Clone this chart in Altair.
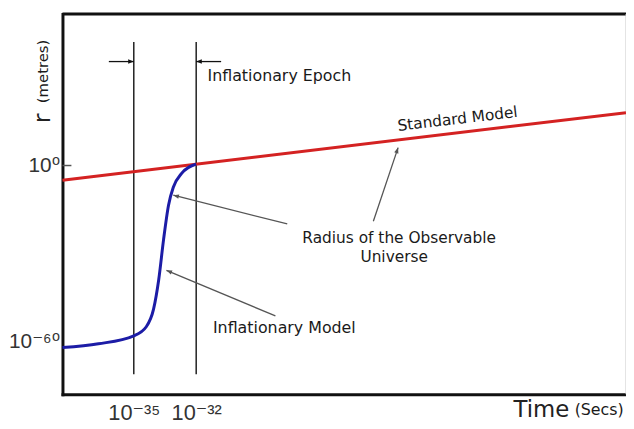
import math
import altair as alt
import pandas as pd

# ---- axis domains (exponents of ten) ----
X_MIN, X_MAX = -38.43, -11.33
Y_MIN, Y_MAX = -77.9, 51.6
W, H = 569, 384

# ---- series ----
infl_t = [-38.43, -36.7, -35.0, -34.4, -34.05, -33.8, -33.57, -33.33, -33.1, -32.7, -32.0]
infl_r = [-62.0, -60.7, -58.0, -54.9, -48.9, -38.8, -25.3, -13.5, -7.4, -2.7, 0.5]
std_t = [-38.43, -11.33]
std_r = [-5.0, 18.0]
epoch_t = [-35.0, -32.0]
epoch_top = 42.1
epoch_bottom = -71.1

# ---- ticks ----
x_ticks = [-35, -32]
x_tick_labels = ["10⁻³⁵", "10⁻³²"]
y_ticks = [0, -60]
y_tick_labels = ["10⁰", "10⁻⁶⁰"]

# ---- annotation texts ----
ann_text = ["Inflationary Epoch", "Standard Model", "Radius of the Observable",
            "Universe", "Inflationary Model", "(metres)", "(Secs)"]
ann_t = [-28.0, -19.43, -22.24, -22.48, -27.76, -39.38, -12.62]
ann_r = [30.35, 15.85, -24.8, -31.0, -55.31, 32.04, -83.3]
ann_angle = [0, 353.3, 0, 0, 0, 270, 0]
ann_size = [16, 15.5, 15.5, 15.5, 16, 15, 16]

# ---- annotation arrows (from -> to, head at "to") ----
arr_t0 = [-36.2, -30.8, -23.48, -27.62, -28.19]
arr_r0 = [35.4, 35.4, -19.0, -19.9, -51.2]
arr_t1 = [-35.0, -32.0, -22.29, -33.1, -33.43]
arr_r1 = [35.4, 35.4, 6.1, -10.1, -35.7]
arr_col = ["#111111", "#111111", "#555555", "#555555", "#555555"]

PX_X = W / (X_MAX - X_MIN)
PX_Y = H / (Y_MAX - Y_MIN)


def lab_expr(vals, labs):
    expr = "''"
    for v, l in zip(reversed(vals), reversed(labs)):
        expr = f"datum.value == {v} ? '{l}' : ({expr})"
    return expr


FONT = "DejaVu Sans"
NUMFONT = "Liberation Sans, DejaVu Sans"

xscale = alt.Scale(domain=[X_MIN, X_MAX], nice=False, zero=False)
yscale = alt.Scale(domain=[Y_MIN, Y_MAX], nice=False, zero=False)
xaxis = alt.Axis(values=x_ticks, labelExpr=lab_expr(x_ticks, x_tick_labels), ticks=False,
                 grid=False, domainColor="#111111", domainWidth=3, domainCap="square",
                 labelFont=NUMFONT, labelFontSize=22, labelColor="#333333", labelPadding=8,
                 labelAngle=0, title="Time", titleFont=FONT, titleFontSize=23,
                 titleFontWeight="normal", titleColor="#222222", titleX=483, titleY=15,
                 titleAlign="center", titleBaseline="middle")
yaxis = alt.Axis(values=y_ticks, labelExpr=lab_expr(y_ticks, y_tick_labels), ticks=False,
                 grid=False, domainColor="#111111", domainWidth=3, domainCap="square",
                 labelFont=NUMFONT, labelFontSize=21, labelColor="#333333", labelPadding=3,
                 title="r", titleFont=FONT, titleFontSize=24, titleFontWeight="normal",
                 titleColor="#222222", titleAngle=270, titleX=-20, titleY=105,
                 titleAlign="center", titleBaseline="middle")


def X(f):
    return alt.X(f, type="quantitative", scale=xscale, axis=xaxis)


def Y(f):
    return alt.Y(f, type="quantitative", scale=yscale, axis=yaxis)


infl_df = pd.DataFrame({"t": infl_t, "r": infl_r})
std_df = pd.DataFrame({"t": std_t, "r": std_r})
epoch_df = pd.DataFrame({"t": epoch_t, "r": [epoch_bottom] * 2, "r2": [epoch_top] * 2})

frame_df = pd.DataFrame({
    "t": [X_MIN, X_MAX, X_MIN],
    "t2": [X_MAX, X_MAX, X_MIN + 0.43],
    "r": [Y_MAX, Y_MIN, 0],
    "r2": [Y_MAX, Y_MAX, 0],
    "c": ["#111111", "#c8c8c8", "#555555"],
    "w": [3, 1, 1.5],
})

arr_df = pd.DataFrame({"t": arr_t0, "r": arr_r0, "t2": arr_t1, "r2": arr_r1, "c": arr_col})
arr_df["ang"] = [
    (math.degrees(math.atan2((b - a) * PX_X, (d - c) * PX_Y)) + 360) % 360
    for a, b, c, d in zip(arr_t0, arr_t1, arr_r0, arr_r1)
]
ann_df = pd.DataFrame({"t": ann_t, "r": ann_r, "txt": ann_text, "ang": ann_angle, "s": ann_size})

frame = alt.Chart(frame_df).mark_rule().encode(
    x=X("t"), x2="t2", y=Y("r"), y2="r2",
    color=alt.Color("c:N", scale=None), strokeWidth=alt.StrokeWidth("w:Q", scale=None))

epoch = alt.Chart(epoch_df).mark_rule(color="#111111", strokeWidth=1.4).encode(
    x=X("t"), y=Y("r"), y2="r2")

std = alt.Chart(std_df).mark_line(color="#d42222", strokeWidth=3).encode(x=X("t"), y=Y("r"))

infl = alt.Chart(infl_df).mark_line(color="#1c1ca6", strokeWidth=3, interpolate="monotone").encode(
    x=X("t"), y=Y("r"), order="t:Q")

arr_lines = alt.Chart(arr_df).mark_rule(strokeWidth=1.3).encode(
    x=X("t"), x2="t2", y=Y("r"), y2="r2", color=alt.Color("c:N", scale=None))

arr_heads = alt.Chart(arr_df).mark_point(
    shape="M0,0L-0.7,1.8L0.7,1.8Z", filled=True, size=40, opacity=1, strokeWidth=0).encode(
    x=X("t2"), y=Y("r2"), angle=alt.Angle("ang:Q", scale=None), color=alt.Color("c:N", scale=None))

texts = alt.Chart(ann_df).mark_text(font=FONT, color="#1a1a1a", align="center", baseline="middle").encode(
    x=X("t"), y=Y("r"), text="txt:N", angle=alt.Angle("ang:Q", scale=None),
    size=alt.Size("s:Q", scale=None))

chart = alt.layer(frame, epoch, std, infl, arr_lines, arr_heads, texts).properties(
    width=W, height=H,
    autosize=alt.AutoSizeParams(type="none"),
    padding={"left": 55, "top": 4, "right": 0, "bottom": 33},
).configure_view(strokeWidth=0).configure(background="white")

chart.save("out.html", embed_options={"renderer": "svg", "actions": False})
